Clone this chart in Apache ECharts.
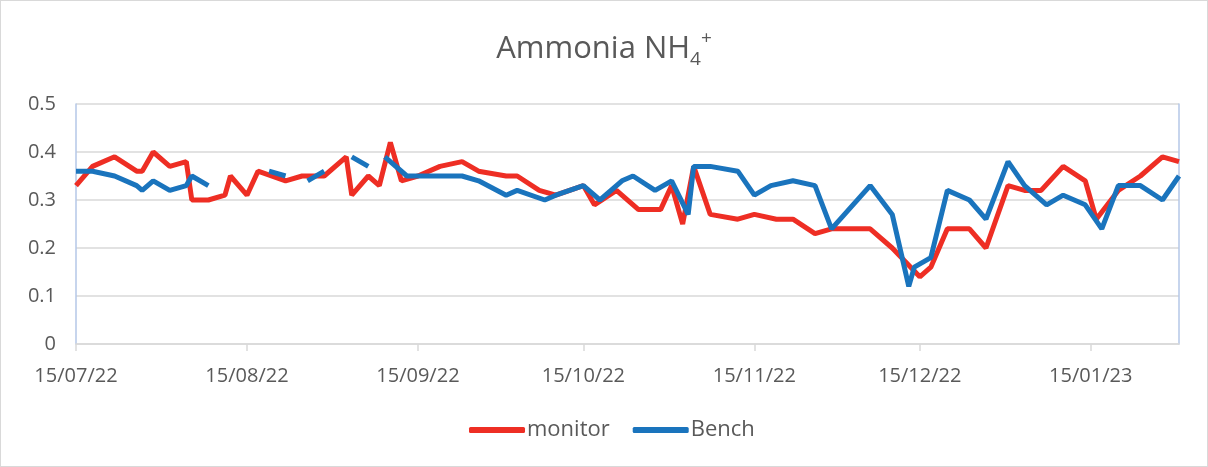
<!DOCTYPE html>
<html>
<head>
<meta charset="utf-8">
<script src="https://cdn.jsdelivr.net/npm/echarts@6/dist/echarts.min.js"></script>
<style>
  html, body { margin: 0; padding: 0; background: #fff; }
  #chart { width: 1206px; height: 465px; border: 1px solid #d9d9d9; }
</style>
</head>
<body>
<div id="chart"></div>
<script>
const monitorDates = [
  '2022-07-15', '2022-07-18', '2022-07-22', '2022-07-26', '2022-07-27', '2022-07-29',
  '2022-08-01', '2022-08-04', '2022-08-05', '2022-08-08', '2022-08-11', '2022-08-12',
  '2022-08-15', '2022-08-17', '2022-08-22', '2022-08-25', '2022-08-27', '2022-08-29',
  '2022-09-02', '2022-09-03', '2022-09-06', '2022-09-08', '2022-09-10', '2022-09-12',
  '2022-09-15', '2022-09-19', '2022-09-23', '2022-09-26', '2022-10-01', '2022-10-03',
  '2022-10-07', '2022-10-10', '2022-10-15', '2022-10-17', '2022-10-21', '2022-10-25',
  '2022-10-29', '2022-10-31', '2022-11-02', '2022-11-04', '2022-11-07', '2022-11-12',
  '2022-11-15', '2022-11-19', '2022-11-22', '2022-11-26', '2022-11-29', '2022-12-06',
  '2022-12-10', '2022-12-15', '2022-12-17', '2022-12-20', '2022-12-24', '2022-12-27',
  '2022-12-31', '2023-01-03', '2023-01-06', '2023-01-10', '2023-01-14', '2023-01-16',
  '2023-01-20', '2023-01-24', '2023-01-28', '2023-01-31'
];
const monitorValues = [
  0.33, 0.37, 0.39, 0.36, 0.36, 0.40,
  0.37, 0.38, 0.30, 0.30, 0.31, 0.35,
  0.31, 0.36, 0.34, 0.35, 0.35, 0.35,
  0.39, 0.31, 0.35, 0.33, 0.42, 0.34,
  0.35, 0.37, 0.38, 0.36, 0.35, 0.35,
  0.32, 0.31, 0.33, 0.29, 0.32, 0.28,
  0.28, 0.33, 0.25, 0.37, 0.27, 0.26,
  0.27, 0.26, 0.26, 0.23, 0.24, 0.24,
  0.20, 0.14, 0.16, 0.24, 0.24, 0.20,
  0.33, 0.32, 0.32, 0.37, 0.34, 0.26,
  0.32, 0.35, 0.39, 0.38
];

// null = no bench sample, breaks the line
const benchDates = [
  '2022-07-15', '2022-07-18', '2022-07-22', '2022-07-26', '2022-07-27', '2022-07-29',
  '2022-08-01', '2022-08-04', '2022-08-05', '2022-08-08', '2022-08-12', '2022-08-19',
  '2022-08-22', '2022-08-24', '2022-08-26', '2022-08-29', '2022-09-01', '2022-09-03',
  '2022-09-06', '2022-09-08', '2022-09-09', '2022-09-13', '2022-09-19', '2022-09-23',
  '2022-09-26', '2022-10-01', '2022-10-03', '2022-10-08', '2022-10-10', '2022-10-15',
  '2022-10-18', '2022-10-22', '2022-10-24', '2022-10-28', '2022-10-31', '2022-11-03',
  '2022-11-04', '2022-11-07', '2022-11-12', '2022-11-15', '2022-11-18', '2022-11-22',
  '2022-11-26', '2022-11-29', '2022-12-06', '2022-12-10', '2022-12-13', '2022-12-14',
  '2022-12-17', '2022-12-20', '2022-12-24', '2022-12-27', '2022-12-31', '2023-01-03',
  '2023-01-07', '2023-01-10', '2023-01-14', '2023-01-17', '2023-01-20', '2023-01-24',
  '2023-01-28', '2023-01-31'
];
const benchValues = [
  0.36, 0.36, 0.35, 0.33, 0.32, 0.34,
  0.32, 0.33, 0.35, 0.33, null, 0.36,
  0.35, null, 0.34, 0.36, null, 0.39,
  0.37, null, 0.39, 0.35, 0.35, 0.35,
  0.34, 0.31, 0.32, 0.30, 0.31, 0.33,
  0.30, 0.34, 0.35, 0.32, 0.34, 0.27,
  0.37, 0.37, 0.36, 0.31, 0.33, 0.34,
  0.33, 0.24, 0.33, 0.27, 0.12, 0.16,
  0.18, 0.32, 0.30, 0.26, 0.38, 0.33,
  0.29, 0.31, 0.29, 0.24, 0.33, 0.33,
  0.30, 0.35
];

const tickDates = ['2022-07-15', '2022-08-15', '2022-09-15', '2022-10-15', '2022-11-15', '2022-12-15', '2023-01-15'];
const tickLabels = ['15/07/22', '15/08/22', '15/09/22', '15/10/22', '15/11/22', '15/12/22', '15/01/23'];

const startDate = '2022-07-15';
const endDate = '2023-01-31';

// days since the start date (x axis is a plain value axis in days)
const dayOf = s => {
  const [y, m, d] = s.split('-').map(Number);
  const [y0, m0, d0] = startDate.split('-').map(Number);
  return Math.round((Date.UTC(y, m - 1, d) - Date.UTC(y0, m0 - 1, d0)) / 86400000);
};

const tickDays = tickDates.map(dayOf);
const labelFor = v => {
  const i = tickDays.indexOf(Math.round(v));
  return i >= 0 ? tickLabels[i] : '';
};

const font = '"Open Sans", "Noto Sans", sans-serif';
const textColor = '#595959';
const red = '#EE2E24';
const blue = '#1A74BD';
const axisBlue = '#B4C7E7';

const chart = echarts.init(document.getElementById('chart'));
chart.setOption({
  animation: false,
  textStyle: { fontFamily: font },
  title: {
    text: 'Ammonia NH{sub|4}{sup|+}',
    left: 'center',
    top: 23,
    textStyle: {
      fontFamily: font,
      fontSize: 31,
      fontWeight: 'normal',
      color: textColor,
      lineHeight: 40,
      rich: {
        sub: { fontFamily: font, fontSize: 19, color: textColor, verticalAlign: 'bottom', lineHeight: 20 },
        sup: { fontFamily: font, fontSize: 19, color: textColor, verticalAlign: 'top', lineHeight: 20 }
      }
    }
  },
  legend: {
    top: 413,
    left: 463,
    itemWidth: 56,
    itemHeight: 6,
    itemGap: 23,
    icon: 'roundRect',
    textStyle: { fontFamily: font, fontSize: 22, color: textColor, padding: [0, 0, 0, -3] },
    data: ['monitor', 'Bench']
  },
  grid: { left: 75, right: 28, top: 103, bottom: 122 },
  xAxis: {
    type: 'value',
    min: 0,
    max: dayOf(endDate),
    axisLine: { lineStyle: { color: '#D9D9D9', width: 1.5 } },
    axisTick: { show: true, customValues: tickDays, length: 7, lineStyle: { color: '#D9D9D9', width: 1.5 } },
    axisLabel: {
      customValues: tickDays,
      formatter: v => labelFor(v),
      color: textColor,
      fontSize: 20,
      margin: 22,
      fontFamily: font
    },
    splitLine: { show: false }
  },
  yAxis: [
    {
      type: 'value',
      min: 0,
      max: 0.5,
      interval: 0.1,
      axisLine: { show: true, lineStyle: { color: axisBlue, width: 1.5 } },
      axisTick: { show: false },
      axisLabel: { color: textColor, fontSize: 20, margin: 20, fontFamily: font },
      splitLine: { lineStyle: { color: '#D9D9D9', width: 1.5 } }
    },
    {
      type: 'value',
      min: 0,
      max: 0.5,
      position: 'right',
      axisLine: { show: true, lineStyle: { color: axisBlue, width: 1.5 } },
      axisTick: { show: false },
      axisLabel: { show: false },
      splitLine: { show: false }
    }
  ],
  series: [
    {
      name: 'monitor',
      type: 'line',
      symbol: 'none',
      connectNulls: false,
      itemStyle: { color: red },
      lineStyle: { color: red, width: 5 },
      data: monitorDates.map((d, i) => [dayOf(d), monitorValues[i]])
    },
    {
      name: 'Bench',
      type: 'line',
      symbol: 'none',
      connectNulls: false,
      itemStyle: { color: blue },
      lineStyle: { color: blue, width: 5 },
      data: benchDates.map((d, i) => [dayOf(d), benchValues[i]])
    }
  ]
});
</script>
</body>
</html>
